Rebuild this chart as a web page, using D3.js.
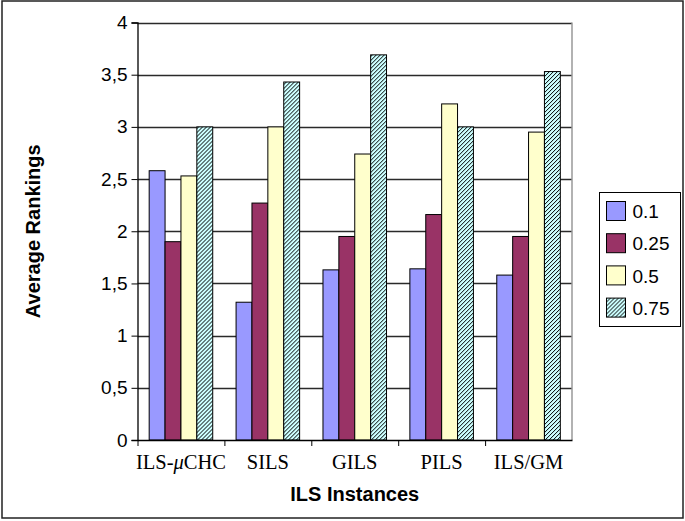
<!DOCTYPE html>
<html>
<head>
<meta charset="utf-8">
<script src="https://cdn.jsdelivr.net/npm/d3@7"></script>
<style>
    body { margin: 0; background: #fff; }
    svg { display: block; }
</style>
</head>
<body>
<div id="chart"></div>
<script>
const categories = ['ILS-μCHC', 'SILS', 'GILS', 'PILS', 'ILS/GM'];
const seriesNames = ['0.1', '0.25', '0.5', '0.75'];
const values01 = [2.58, 1.32, 1.63, 1.64, 1.58];
const values025 = [1.90, 2.27, 1.95, 2.16, 1.95];
const values05 = [2.53, 3.00, 2.74, 3.22, 2.95];
const values075 = [3.00, 3.43, 3.69, 3.00, 3.53];
const yTicks = [0, 0.5, 1, 1.5, 2, 2.5, 3, 3.5, 4];

const seriesValues = [values01, values025, values05, values075];
const colors = ['#9999ff', '#993366', '#ffffcc', 'url(#hatch)'];

const width = 685, height = 521;
const plot = {left: 137.5, right: 572, top: 22.5, bottom: 440};

const svg = d3.select('#chart').append('svg')
    .attr('width', width)
    .attr('height', height);

// hatch pattern for the 0.75 series
const pattern = svg.append('defs').append('pattern')
    .attr('id', 'hatch')
    .attr('patternUnits', 'userSpaceOnUse')
    .attr('width', 4)
    .attr('height', 4);
pattern.append('rect').attr('width', 4).attr('height', 4).attr('fill', '#ccffff');
pattern.append('path')
    .attr('d', 'M-1,1 l2,-2 M0,4 l4,-4 M3,5 l2,-2')
    .attr('stroke', '#000')
    .attr('stroke-width', 1);

// outer frame
svg.append('rect')
    .attr('x', 2).attr('y', 1)
    .attr('width', 681).attr('height', 517)
    .attr('fill', 'none')
    .attr('stroke', '#222')
    .attr('stroke-width', 1.5);

const y = d3.scaleLinear().domain([0, 4]).range([plot.bottom, plot.top]);
const x0 = d3.scaleBand().domain(categories).range([plot.left, plot.right]).padding(0);
const x1 = d3.scaleBand().domain(seriesNames).range([0, x0.bandwidth()])
    .paddingInner(0).paddingOuter(0.735);

// gridlines
svg.append('g')
    .selectAll('line')
    .data(yTicks.filter(d => d > 0))
    .enter()
    .append('line')
    .attr('x1', plot.left).attr('x2', plot.right)
    .attr('y1', d => Math.round(y(d)) + 0.5)
    .attr('y2', d => Math.round(y(d)) + 0.5)
    .attr('stroke', '#2a2a2a')
    .attr('stroke-width', 1.4);

// right border of plot area
svg.append('line')
    .attr('x1', plot.right).attr('x2', plot.right)
    .attr('y1', plot.top).attr('y2', plot.bottom)
    .attr('stroke', '#999')
    .attr('stroke-width', 1.5);

// bars
const groups = svg.append('g')
    .selectAll('g')
    .data(categories)
    .enter()
    .append('g')
    .attr('transform', d => `translate(${x0(d)},0)`);

groups.selectAll('rect')
    .data((c, ci) => seriesNames.map((s, si) => ({s, si, v: seriesValues[si][ci]})))
    .enter()
    .append('rect')
    .attr('x', d => x1(d.s))
    .attr('y', d => y(d.v))
    .attr('width', x1.bandwidth())
    .attr('height', d => y(0) - y(d.v))
    .attr('fill', d => colors[d.si])
    .attr('stroke', '#000')
    .attr('stroke-width', 1);

// y axis
const yAxis = d3.axisLeft(y)
    .tickValues(yTicks)
    .tickSize(6)
    .tickFormat(d => String(d).replace('.', ','));
const yg = svg.append('g')
    .attr('transform', `translate(${plot.left},0)`)
    .call(yAxis);
yg.select('.domain').attr('stroke', '#000').attr('stroke-width', 1.3);
yg.selectAll('text')
    .attr('x', -10)
    .style('font-family', '"Liberation Sans", Arial, sans-serif')
    .style('font-size', '19px')
    .attr('fill', '#000');

// x axis
const xAxis = d3.axisBottom(x0).tickSize(0).tickFormat('');
const xg = svg.append('g')
    .attr('transform', `translate(0,${plot.bottom})`)
    .call(xAxis);
xg.select('.domain').attr('stroke', '#000').attr('stroke-width', 1.5);

// tick marks at category boundaries
svg.append('g')
    .selectAll('line')
    .data(categories)
    .enter()
    .append('line')
    .attr('x1', d => x0(d) + 0.5).attr('x2', d => x0(d) + 0.5)
    .attr('y1', plot.bottom).attr('y2', plot.bottom + 6)
    .attr('stroke', '#000');

// category labels (serif, μ italic)
const catLabels = svg.append('g')
    .selectAll('text')
    .data(categories)
    .enter()
    .append('text')
    .attr('x', d => x0(d) + x0.bandwidth() / 2)
    .attr('y', 469)
    .attr('text-anchor', 'middle')
    .style('font-family', '"Liberation Serif", "Times New Roman", serif')
    .style('font-size', '20.5px')
    .attr('fill', '#000');
catLabels.each(function(d) {
    const t = d3.select(this);
    d.split(/(μ)/).filter(p => p).forEach(p => {
        t.append('tspan')
            .style('font-style', p === 'μ' ? 'italic' : 'normal')
            .text(p);
    });
});

// axis titles
svg.append('text')
    .attr('x', (plot.left + plot.right) / 2)
    .attr('y', 501)
    .attr('text-anchor', 'middle')
    .style('font-family', '"Liberation Sans", Arial, sans-serif')
    .style('font-size', '20px')
    .style('font-weight', 'bold')
    .text('ILS Instances');

svg.append('text')
    .attr('transform', `translate(33,${(plot.top + plot.bottom) / 2}) rotate(-90)`)
    .attr('text-anchor', 'middle')
    .attr('dy', '0.35em')
    .style('font-family', '"Liberation Sans", Arial, sans-serif')
    .style('font-size', '20px')
    .style('font-weight', 'bold')
    .text('Average Rankings');

// legend
const legend = svg.append('g').attr('transform', 'translate(599.5,192.5)');
legend.append('rect')
    .attr('width', 81).attr('height', 134)
    .attr('fill', '#fff')
    .attr('stroke', '#000')
    .attr('stroke-width', 1);

const items = legend.selectAll('g.item')
    .data(seriesNames)
    .enter()
    .append('g')
    .attr('class', 'item')
    .attr('transform', (d, i) => `translate(7,${9 + i * 32.2})`);
items.append('rect')
    .attr('width', 19).attr('height', 19)
    .attr('fill', (d, i) => colors[i])
    .attr('stroke', '#000');
items.append('text')
    .attr('x', 26)
    .attr('y', 10)
    .attr('dy', '0.35em')
    .style('font-family', '"Liberation Sans", Arial, sans-serif')
    .style('font-size', '19px')
    .text(d => d);
</script>
</body>
</html>
